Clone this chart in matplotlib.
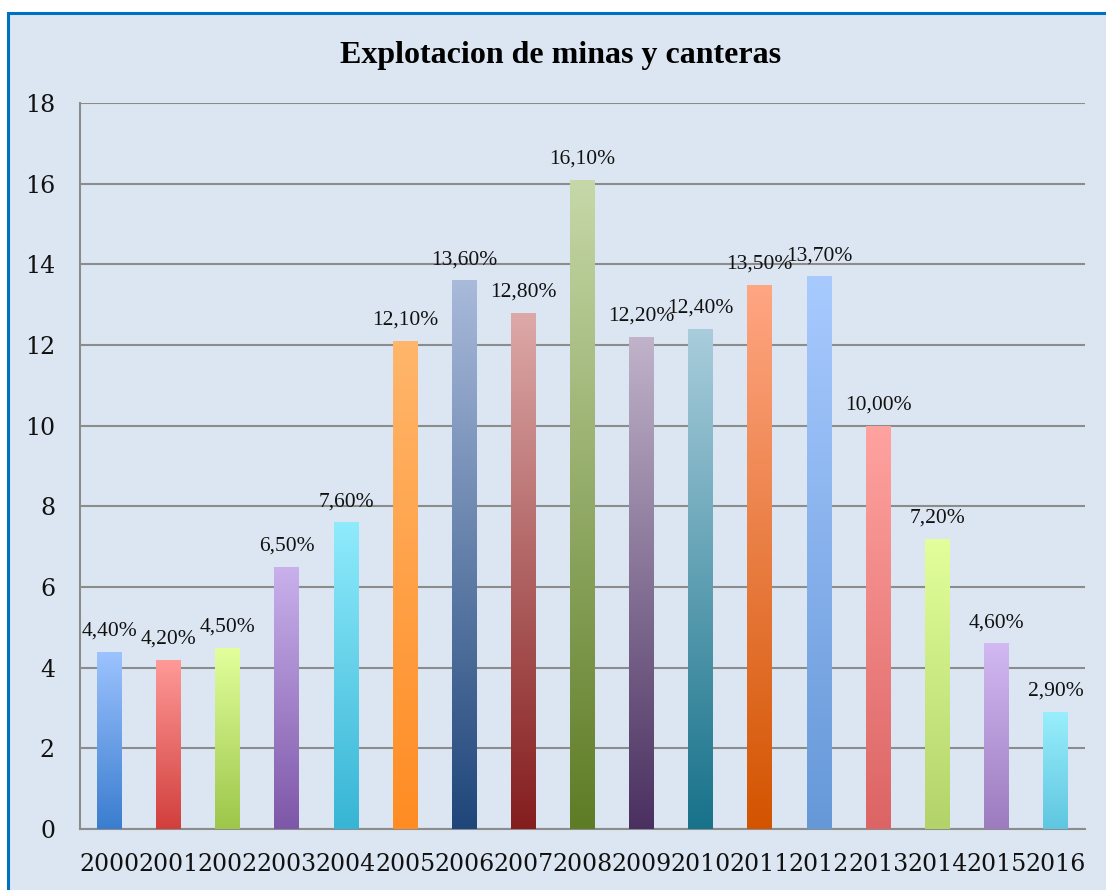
import numpy as np
import matplotlib
matplotlib.use('Agg')
import matplotlib.pyplot as plt
from matplotlib.colors import LinearSegmentedColormap
from matplotlib.patches import Rectangle

years = ['2000', '2001', '2002', '2003', '2004', '2005', '2006', '2007', '2008',
         '2009', '2010', '2011', '2012', '2013', '2014', '2015', '2016']
values = [4.4, 4.2, 4.5, 6.5, 7.6, 12.1, 13.6, 12.8, 16.1,
          12.2, 12.4, 13.5, 13.7, 10.0, 7.2, 4.6, 2.9]
labels = ['4,40%', '4,20%', '4,50%', '6,50%', '7,60%', '12,10%', '13,60%', '12,80%', '16,10%',
          '12,20%', '12,40%', '13,50%', '13,70%', '10,00%', '7,20%', '4,60%', '2,90%']
# (top colour, bottom colour) of each bar gradient
top_colors = ['#9DC3FF', '#FF9A98', '#E2FF9C', '#C9B1EC', '#8FEBFC', '#FFB66B',
              '#A9BADA', '#DDA9A8', '#C6D8A8', '#C0B3CA', '#A9CDDC', '#FFA683',
              '#A8CAFF', '#FFA3A0', '#E2FF9B', '#D2B9F3', '#99EEFC']
bottom_colors = ['#3A7DCF', '#D13F3C', '#9DC64A', '#7E57A8', '#37B5D5', '#FF8C23',
                 '#1F467A', '#841D1E', '#5E7C25', '#4A3060', '#17728A', '#D35400',
                 '#6698D8', '#DC6464', '#B3D36A', '#9C7BBE', '#5FC6E0']

bg = '#DCE6F2'
fig = plt.figure(figsize=(11.06, 8.90), dpi=100, facecolor='white')
fig.patches.append(Rectangle((8/1106, -0.02), 1.0, 1 - 13/890 + 0.02,
                             transform=fig.transFigure, facecolor=bg,
                             edgecolor='#0070C0', linewidth=2.2, zorder=-10))

ax = fig.add_axes([80/1106, 61/890, 1005/1106, 726/890])
ax.set_facecolor('none')

x = np.arange(len(years))
bars = ax.bar(x, values, width=0.42, color='none', zorder=3)
grad = np.linspace(0, 1, 256).reshape(-1, 1)
for b, c1, c2 in zip(bars, top_colors, bottom_colors):
    cmap = LinearSegmentedColormap.from_list('g', [c2, c1])
    bx, by = b.get_x(), b.get_y()
    w, h = b.get_width(), b.get_height()
    im = ax.imshow(grad, cmap=cmap, aspect='auto', origin='lower',
                   extent=[bx, bx + w, by, by + h], zorder=3)
    im.set_clip_path(b)

for xi, v, lab in zip(x, values, labels):
    ax.annotate(lab, (xi, v), xytext=(0, 8), textcoords='offset points',
                ha='center', va='bottom', fontsize=15.5,
                family='Liberation Serif', color='#111111')

ax.set_xlim(-0.5, len(years) - 0.5)
ax.set_ylim(0, 18)
ax.set_yticks(np.arange(0, 19, 2))
ax.set_xticks(x)
ax.set_xticklabels(years)
ax.grid(axis='y', color='#8C8C8C', linewidth=1.5, zorder=1)
ax.set_axisbelow(True)
for s in ['top', 'right']:
    ax.spines[s].set_visible(False)
for s in ['left', 'bottom']:
    ax.spines[s].set_color('#8C8C8C')
    ax.spines[s].set_linewidth(1.5)
ax.tick_params(length=0)
ax.tick_params(axis='y', pad=18)
ax.tick_params(axis='x', pad=17)
for t in ax.get_xticklabels() + ax.get_yticklabels():
    t.set_fontfamily('DejaVu Serif')
    t.set_fontsize(17)
    t.set_color('#111111')

fig.text(561/1106, 1 - 55/890, 'Explotacion de minas y canteras', ha='center', va='center',
         fontsize=23, fontweight='bold', family='Liberation Serif')

fig.savefig('out.png', dpi=100, facecolor='white')
